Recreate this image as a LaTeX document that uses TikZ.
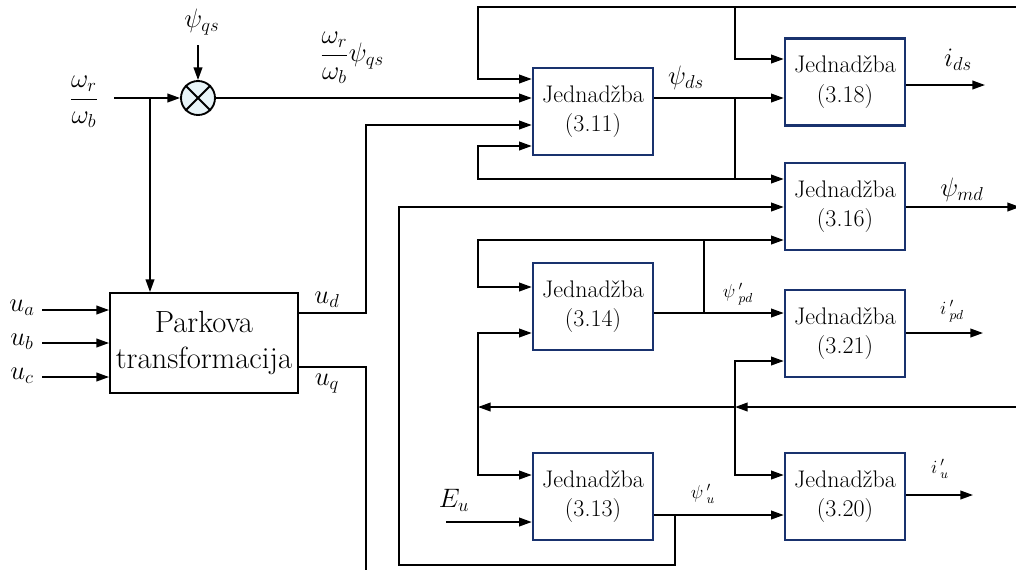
\RequirePackage{fix-cm}
\documentclass[tikz,border=0pt]{standalone}
\usetikzlibrary{arrows.meta}
\definecolor{boxblue}{RGB}{25,50,110}
\definecolor{multfill}{RGB}{232,244,248}
\tikzset{
  ln/.style={line width=1.3pt},
  arr/.style={ln,-{Triangle[length=9.5pt,width=6.5pt]}},
  eqbox/.style={draw=boxblue,line width=1.9pt,minimum width=90pt,minimum height=65pt,inner sep=0pt,align=center,font=\fontsize{18}{22}\selectfont},
  parkbox/.style={draw,line width=1.4pt,minimum width=141pt,minimum height=75pt,inner sep=0pt,align=center,font=\fontsize{23}{27}\selectfont},
  multnode/.style={circle,draw,line width=1.4pt,fill=multfill,minimum size=25.5pt,inner sep=0pt},
  lbl/.style={inner sep=0pt,font=\fontsize{20}{24}\selectfont},
  slbl/.style={inner sep=0pt,font=\fontsize{14}{17}\selectfont}
}
\begin{document}
\begin{tikzpicture}[x=0.75pt,y=-0.75pt]
\useasboundingbox (0,0) rectangle (1016,569);
% blocks
\node[eqbox] (b311) at (593,111.5) {Jednadžba\\(3.11)};
\node[eqbox] (b318) at (845,82) {Jednadžba\\(3.18)};
\node[eqbox] (b316) at (845,206.5) {Jednadžba\\(3.16)};
\node[eqbox] (b314) at (593,306.5) {Jednadžba\\(3.14)};
\node[eqbox] (b321) at (845,333.5) {Jednadžba\\(3.21)};
\node[eqbox] (b313) at (593,496.5) {Jednadžba\\(3.13)};
\node[eqbox] (b320) at (845,496.5) {Jednadžba\\(3.20)};
\node[parkbox] (park) at (204,343) {Parkova\\transformacija};
\node[multnode] (mult) at (198,98) {};
\draw[line width=1.4pt] (mult.north west) -- (mult.south east) (mult.north east) -- (mult.south west);
% labels
\node[lbl] (lwr) at (84,102) {$\displaystyle\frac{\omega_r}{\omega_b}$};
\node[lbl] (lpq) at (202,22) {$\psi_{qs}$};
\node[lbl] (lprod) at (352,58) {$\displaystyle\frac{\omega_r}{\omega_b}\psi_{qs}$};
\node[lbl] (lpds) at (686,78) {$\psi_{ds}$};
\node[lbl] (lids) at (958,60) {$i_{ds}$};
\node[lbl] (lpmd) at (962,190) {$\psi_{md}$};
\node[slbl] (lppd) at (738,294) {$\psi\,'_{pd}$};
\node[slbl] (lipd) at (952,311) {$i\,'_{pd}$};
\node[slbl] (lpu) at (703,494) {$\psi\,'_{u}$};
\node[slbl] (liu) at (940,469) {$i\,'_{u}$};
\node[lbl] (leu) at (454,500) {$E_u$};
\node[lbl] (lua) at (22,308) {$u_a$};
\node[lbl] (lub) at (22,342) {$u_b$};
\node[lbl] (luc) at (22,376) {$u_c$};
\node[lbl] (lud) at (327,300) {$u_d$};
\node[lbl] (luq) at (327,384) {$u_q$};
% coordinates
\coordinate (win) at (114,98);
\coordinate (jw) at (150,98);
\coordinate (psiq) at (198,45);
\coordinate (tr) at (1020,7);
\coordinate (tl) at (478,7);
\coordinate (tj) at (735,7);
\coordinate (jds) at (735,98);
\coordinate (jds2) at (735,179);
\coordinate (jpd) at (704,313);
\coordinate (jpd2) at (704,240);
\coordinate (lr) at (1020,407);
\coordinate (jr) at (735,407);
\coordinate (jl) at (478,407);
\coordinate (ju) at (675,515);
\coordinate (eu) at (446,522);
% connectors
\draw[arr] (win) -- (mult);
\draw[arr] (jw) -- (jw |- park.north);
\draw[arr] (psiq) -- (mult);
\draw[arr] (mult) -- (mult -| b311.west);
\draw[arr] (tr) -- (tl) -- (478,79) -- (b311.west |- 0,79);
\draw[arr] (tj) |- (b318.west |- 0,59);
\draw[arr] (park.east |- 0,313) -- (366,313) -- (366,125) -- (b311.west |- 0,125);
\draw[arr] (b311.east |- jds) -- (b318.west |- jds);
\draw[arr] (jds) -- (jds2) -- (b316.west |- jds2);
\draw[arr] (jds2) -- (478,179) -- (478,146) -- (b311.west |- 0,146);
\draw[arr] (b318.east |- 0,85) -- (985,85);
\draw[arr] (b316.east |- 0,207) -- (1020,207);
\draw[ln] (park.east |- 0,367) -- (366,367) -- (366,575);
\draw[arr] (ju) -- (675,565) -- (399,565) -- (399,207) -- (b316.west |- 0,207);
\draw[arr] (b314.east |- jpd) -- (b321.west |- jpd);
\draw[arr] (jpd) -- (jpd2) -- (b316.west |- jpd2);
\draw[arr] (jpd2) -- (478,240) -- (478,287) -- (b314.west |- 0,287);
\draw[arr] (lr) -- (jr);
\draw[arr] (jr) -- (jl);
\draw[arr] (jl) |- (b314.west |- 0,333);
\draw[arr] (jl) |- (b313.west |- 0,475);
\draw[arr] (jr) |- (b321.west |- 0,361);
\draw[arr] (jr) |- (b320.west |- 0,475);
\draw[arr] (b321.east |- 0,333) -- (983,333);
\draw[arr] (eu) -- (b313.west |- eu);
\draw[arr] (b313.east |- ju) -- (b320.west |- ju);
\draw[arr] (b320.east |- 0,495) -- (973,495);
\draw[arr] (42,310) -- (park.west |- 0,310);
\draw[arr] (42,343) -- (park.west |- 0,343);
\draw[arr] (42,377) -- (park.west |- 0,377);
\end{tikzpicture}
\end{document}
